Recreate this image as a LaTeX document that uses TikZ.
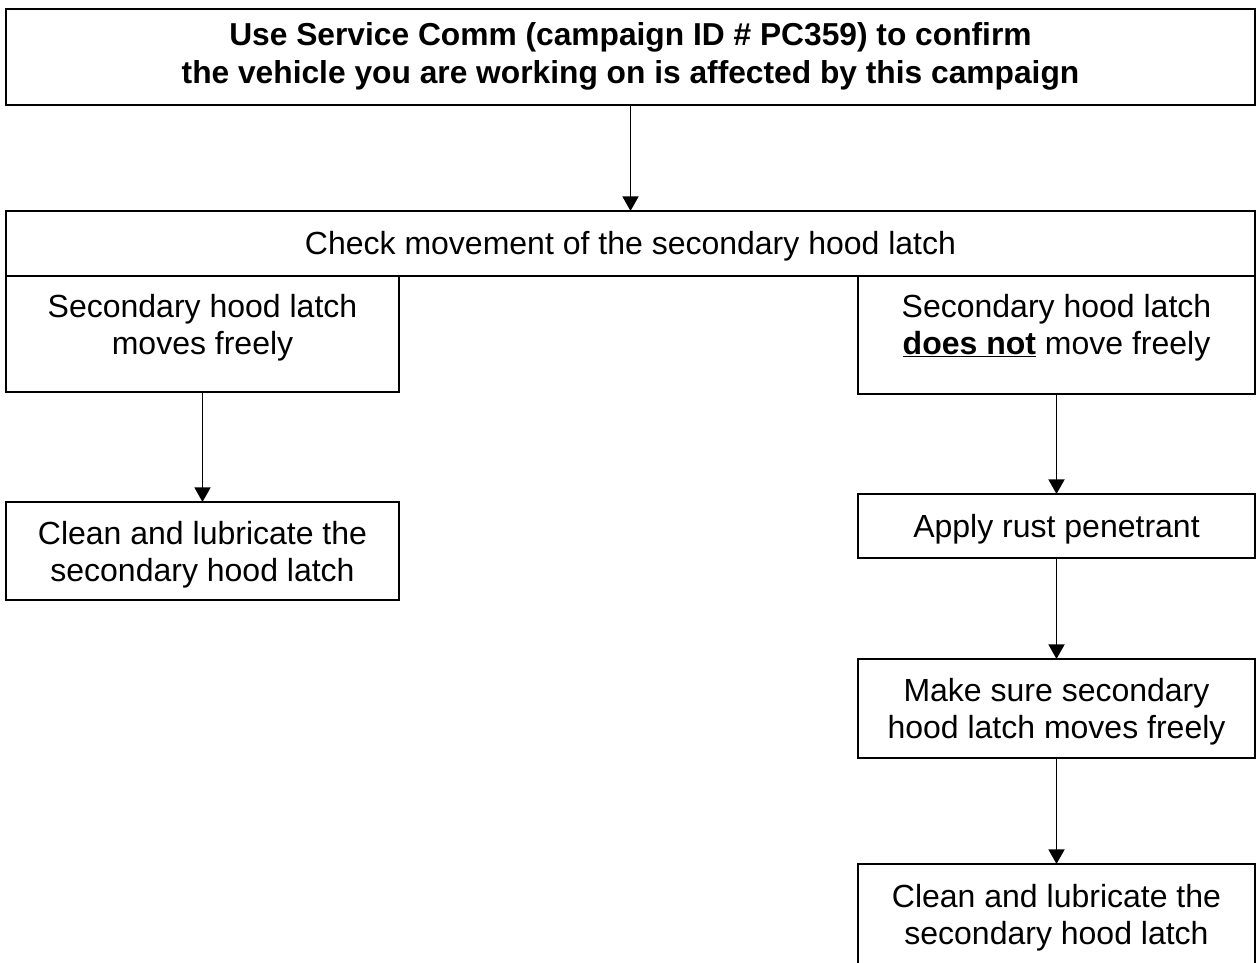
\documentclass[tikz,border=0pt]{standalone}
\usepackage{fontspec}
\setmainfont{Liberation Sans}
\usetikzlibrary{arrows.meta}
\begin{document}
\begin{tikzpicture}[x=0.75pt,y=-0.75pt,
  box/.style={draw,line width=1.35pt,rectangle,inner sep=0pt,outer sep=0pt},
  txt/.style={align=center,inner sep=0pt,font=\fontsize{24}{27.75}\selectfont},
  arr/.style={line width=1.4pt,-{Triangle[length=11pt,width=12pt]}}]
\useasboundingbox (0,0) rectangle (1257,963);
\clip (0,0) rectangle (1257,963);
\node[box,minimum width=1249*0.75pt,minimum height=96*0.75pt] (top) at (630.5,57) {};
\node[align=center,inner sep=0pt,font=\fontsize{23.8}{28.5}\selectfont\bfseries] (toptxt) at (630.5,56)
  {Use Service Comm (campaign ID \# PC359) to confirm\\the vehicle you are working on is affected by this campaign};
\node[box,minimum width=1249*0.75pt,minimum height=65*0.75pt] (check) at (630.5,243.5) {};
\node[txt] (checktxt) at (630.5,246.5) {Check movement of the secondary hood latch};
\node[box,minimum width=393*0.75pt,minimum height=116*0.75pt] (lsub) at (202.5,334) {};
\node[txt,anchor=north] (lsubtxt) at (202.5,294) {Secondary hood latch\\moves freely};
\node[box,minimum width=397*0.75pt,minimum height=118*0.75pt] (rsub) at (1056.5,335) {};
\node[txt,anchor=north] (rsubtxt) at (1056.5,294) {Secondary hood latch\\\underline{\textbf{does not}} move freely};
\node[box,minimum width=393*0.75pt,minimum height=98*0.75pt] (lclean) at (202.5,551) {};
\node[txt] (lcleantxt) at (202.5,555) {Clean and lubricate the\\secondary hood latch};
\node[box,minimum width=397*0.75pt,minimum height=64*0.75pt] (apply) at (1056.5,526) {};
\node[txt] (applytxt) at (1056.5,529) {Apply rust penetrant};
\node[box,minimum width=397*0.75pt,minimum height=99*0.75pt] (sure) at (1056.5,708.5) {};
\node[txt] (suretxt) at (1056.5,711.5) {Make sure secondary\\hood latch moves freely};
\node[box,minimum width=397*0.75pt,minimum height=100*0.75pt] (rclean) at (1056.5,914) {};
\node[txt] (rcleantxt) at (1056.5,918) {Clean and lubricate the\\secondary hood latch};
\draw[arr] (top) -- (check);
\draw[arr] (lsub) -- (lclean);
\draw[arr] (rsub) -- (apply);
\draw[arr] (apply) -- (sure);
\draw[arr] (sure) -- (rclean);
\end{tikzpicture}
\end{document}
